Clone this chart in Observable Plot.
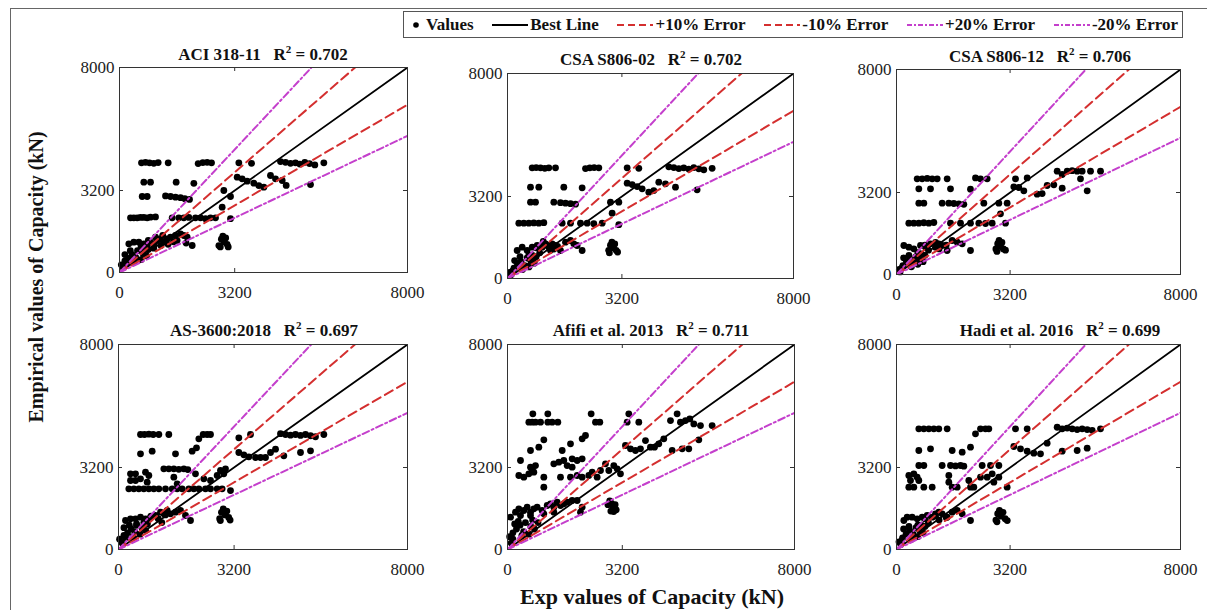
<!DOCTYPE html>
<html><head><meta charset="utf-8">
<script src="https://cdn.jsdelivr.net/npm/d3@7"></script>
<script src="https://cdn.jsdelivr.net/npm/@observablehq/plot@0.6"></script>
<style>
body{margin:0;background:#fff;font-family:"Liberation Serif","Times New Roman",serif}
#root{position:relative;width:1207px;height:610px;overflow:hidden;background:#fff}
.outer{position:absolute;left:10px;top:8px;width:1400px;height:800px;border-left:1px solid #666;border-top:1px solid #666}
.panel{position:absolute}
.title{position:absolute;font-weight:bold;font-size:17px;white-space:pre;transform:translate(-50%,-50%);color:#111}
.title sup{font-size:11px;vertical-align:7px;line-height:0}
.ylab{position:absolute;left:36px;top:277px;transform:translate(-50%,-50%) rotate(-90deg);font-weight:bold;font-size:20px;white-space:nowrap;color:#111}
.xlab{position:absolute;left:652px;top:597px;transform:translate(-50%,-50%);font-weight:bold;font-size:22px;white-space:nowrap;color:#111}
.legend{position:absolute;left:403px;top:11px;width:780px;height:27px;border:1px solid #555;background:#fff;display:flex;align-items:center;justify-content:space-between;font-weight:bold;font-size:17px;color:#111;box-sizing:border-box;padding:0 4px 0 6px}
.legend .it{display:flex;align-items:center;white-space:nowrap}
.legend svg{margin-right:2px}
</style></head>
<body><div id="root"><div class="outer"></div></div>
<script>
// ---------------- data ----------------
const panelTitles = ["ACI 318-11", "CSA S806-02", "CSA S806-12", "AS-3600:2018", "Afifi et al. 2013", "Hadi et al. 2016"];
const r2Values = [0.702, 0.702, 0.706, 0.697, 0.711, 0.699];
const axisTicks = [0, 3200, 8000];
const axisDomain = [0, 8000];
const legendLabels = ["Values", "Best Line", "+10% Error", "-10% Error", "+20% Error", "-20% Error"];
// error band slopes (predicted / experimental)
const bandSlopes = [1.1 / 0.9, 0.9 / 1.1, 1.2 / 0.8, 0.8 / 1.2];

// [experimental, empirical] pairs in kN
const aciPoints = [
[611,4280],[722,4300],[833,4280],[953,4260],[1074,4290],[1352,4280],[2185,4250],[2315,4290],[2435,4300],[2556,4280],[3315,4280],[3667,4260],[4472,4330],[4611,4300],[4750,4260],[4889,4280],[5009,4230],[5148,4300],[5278,4250],[5426,4200],[5676,4280],
[676,3523],[861,3523],[1574,3523],[2065,3480],[3269,3720],[3407,3655],[3546,3562],[3731,3484],[3870,3394],[4009,3330],[4194,3785],[4333,3655],[4519,3590],[4630,3400],[5306,3433],
[630,2966],[769,2966],[1278,2990],[1417,2966],[1556,2940],[1694,2920],[1815,2880],[1944,2850],[2898,3200],[3083,2966],[2852,2550],
[306,2133],[398,2133],[491,2133],[583,2150],[676,2150],[769,2133],[861,2160],[1000,2170],[1463,2133],[1648,2133],[1787,2133],[1926,2150],[2111,2133],[2250,2133],[2389,2100],[2528,2133],[2667,2133],[3083,2100],
[259,1120],[398,1183],[537,1183],[676,1120],[769,1054],[861,1183],[954,1120],[1046,1249],[1139,1314],[1231,1183],[1324,1314],[1417,1379],[1556,1444],[1694,1509],[1787,1444],[1880,1379],[2019,1054],[600,1000],[800,1250],[950,950],[1150,1050],[1350,1100],[1500,1200],[1000,1380],[1200,1450],[1600,1250],[1850,1150],
[2760,1050],[2830,1300],[2870,1420],[2900,1200],[2950,1350],[2990,1100],[3020,1000],[2800,1000],
[50,300],[150,450],[250,550],[350,700],[450,600],[150,700],[300,850],[500,850],[650,750],[750,650],[600,500],[200,350],[400,400],[100,200],[800,900],[700,950]
];
const csa02Points = [
[690,4319],[802,4330],[923,4319],[1044,4300],[1156,4319],[1343,4319],[2182,4290],[2303,4319],[2424,4330],[2555,4319],[3347,4319],[3673,4300],[4512,4360],[4652,4330],[4792,4290],[4931,4319],[5071,4270],[5211,4330],[5351,4280],[5491,4240],[5724,4300],
[643,3563],[876,3563],[1575,3563],[2088,3540],[3347,3719],[3487,3667],[3627,3589],[3767,3498],[3953,3368],[4092,3433],[4232,3758],[4419,3693],[4699,3563],[5304,3459],
[643,2978],[783,2978],[1296,2978],[1482,2960],[1622,2940],[1762,2920],[1902,2900],[2880,2978],[3114,2978],[2927,2548],
[317,2158],[457,2158],[597,2158],[736,2170],[876,2158],[1016,2180],[1529,2158],[1762,2158],[2042,2158],[2228,2158],[2415,2140],[2648,2158],[3114,2100],
[270,1093],[410,1223],[550,1093],[690,1223],[830,1288],[970,1223],[1063,1353],[1156,1223],[1249,1353],[1343,1288],[1482,1093],[1622,1418],[1762,1483],[1855,1353],[1948,1288],[2088,1093],[600,900],[900,1000],[1200,1100],[1400,1250],[800,1200],[1100,1300],[1000,1450],[1300,1150],
[2830,1100],[2880,1300],[2920,1420],[2960,1200],[3000,1350],[3040,1100],[3080,1030],[2850,1000],
[80,250],[180,400],[280,550],[380,650],[480,500],[200,700],[350,850],[550,800],[650,700],[750,600],[600,450],[150,300],[420,350],[100,150],[800,850],[700,900]
];
const csa12Points = [
[582,3734],[723,3734],[864,3750],[1005,3734],[1146,3734],[1427,3734],[2225,3770],[2366,3734],[2554,3734],[3352,3734],[3681,3770],
[4526,4031],[4667,3903],[4808,4031],[4948,4050],[5089,4031],[5230,4031],[5465,4031],[5747,4031],
[629,3344],[958,3344],[1521,3344],[2084,3330],[3305,3422],[3446,3396],[3587,3266],[3962,3136],[4103,3160],[4244,3474],[4432,3500],[4667,3370],[5183,3734],[5371,3266],
[629,2783],[770,2783],[1286,2783],[1474,2783],[1615,2770],[1756,2760],[1897,2740],[2460,2783],[2883,2783],[3117,2783],[2929,2367],
[347,2003],[488,2003],[629,2003],[770,2020],[911,2003],[1052,2030],[1521,2003],[1803,2003],[2084,2003],[2319,2003],[2507,1990],[2695,2003],[3070,2003],
[207,1131],[347,1066],[488,1001],[676,1131],[817,1066],[958,1196],[1098,1066],[1192,1196],[1286,1131],[1427,936],[1568,1326],[1709,1261],[1850,1196],[2084,936],[600,850],[900,950],[1200,1000],[1400,1150],[800,1150],[1100,1250],
[2800,1000],[2850,1200],[2890,1330],[2930,1100],[2970,1250],[3010,1000],[3070,950],[2830,900],
[80,200],[180,350],[280,500],[380,600],[480,450],[200,650],[350,750],[550,700],[650,600],[750,500],[600,400],[150,250],[420,300],[100,100],[800,750],[700,800]
];
const as3600Points = [
[609,4487],[720,4487],[840,4500],[960,4487],[1117,4487],[1393,4487],[2224,4318],[2344,4487],[2454,4487],[2547,4487],[3331,4357],[3654,4487],[4484,4520],[4623,4487],[4761,4460],[4900,4487],[5038,4450],[5176,4487],[5315,4440],[5453,4400],[5684,4487],
[609,3733],[932,3837],[1578,3733],[2039,3837],[2159,3967],[3331,3785],[3470,3694],[3608,3616],[3793,3590],[3931,3590],[4069,3590],[4208,3785],[4346,3915],[4577,3655],[5038,3785],[5315,3850],
[1255,3148],[1393,3148],[1532,3148],[1670,3130],[1809,3148],[1919,3120],[2823,3083],[2962,3148],
[332,2952],[471,2952],[748,3018],[840,2887],[332,2693],[471,2693],[609,2758],[794,2628],
[1532,2823],[1624,2563],[2131,2952],[2362,2758],[2547,2693],[2731,2887],[2915,2952],
[286,2368],[425,2368],[563,2368],[701,2368],[840,2368],[978,2368],[1117,2368],[1301,2368],[1486,2368],[1624,2368],[1762,2368],[1947,2368],[2085,2368],[2224,2368],[2408,2368],[2547,2368],[2731,2368],[2869,2368],[3100,2300],
[194,1131],[332,1196],[471,1196],[609,1261],[748,1196],[886,1261],[1024,1326],[1163,1456],[1255,1391],[1347,1521],[1439,1391],[1578,1456],[1716,1521],[1855,1326],[1993,1131],[500,1000],[800,1100],[1100,1200],[1300,1350],[900,1300],[1200,1050],
[2800,1200],[2850,1450],[2900,1580],[2950,1350],[3000,1500],[3050,1250],[3090,1150],[2820,1130],
[30,400],[150,550],[250,650],[350,800],[450,700],[150,850],[300,950],[500,950],[650,850],[750,750],[600,600],[200,450],[400,500],[100,250],[800,1000],[700,1050]
];
const afifiPoints = [
[595,4967],[688,4967],[706,5295],[780,4967],[920,4967],[1124,5295],[1124,4967],[1245,4967],[1403,4967],[2332,5295],[2453,4967],[2573,4967],[3381,5295],[3335,4967],[3660,4967],[4543,5032],[4728,5295],[4821,4967],[4961,5032],[5082,5097],[5193,4902],[5379,4837],[5704,4837],
[1013,4280],[641,3863],[873,3993],[1524,3863],[1756,4123],[2081,4319],[2174,4448],[3288,4058],[3428,3928],[3567,3863],[3706,3928],[3846,4250],[3985,3993],[4097,3993],[4218,4123],[4357,4319],[4590,3863],[4869,3928],[5054,3928],[5333,4280],
[362,3473],[316,2887],[455,2821],[595,2952],[641,3212],[688,3082],[780,3277],[734,3017],[1013,2821],[1013,2431],[1291,3343],[1431,3408],[1570,3473],[1663,3277],[1802,3538],[1802,3212],[1942,3473],[2081,3538],[1477,2821],[1756,2821],[1942,2887],[2081,2821],[2267,2887],[2360,3017],[2499,2821],[2592,3082],[2731,3343],[2824,3082],[2963,3277],[3056,3147],[3149,2952],
[84,1262],[223,1457],[316,1587],[455,1522],[548,1652],[641,1457],[734,1587],[827,1652],[966,1522],[1106,1717],[1199,1782],[1291,1652],[1384,1847],[1477,1717],[1570,1782],[1663,1847],[1802,1912],[1942,1912],[2081,1652],[2035,1457],[362,1327],[641,1327],[1013,1392],[1291,1457],
[2800,1750],[2850,1900],[2900,1800],[2950,1650],[3000,1750],[3030,1550],[2880,1500],[2960,1480],
[60,500],[150,650],[250,800],[350,950],[450,700],[200,1000],[300,1100],[500,1050],[650,900],[750,800],[600,600],[150,400],[400,550],[100,250],[850,1050],[700,1150]
];
const hadiPoints = [
[629,4709],[770,4709],[911,4709],[1052,4709],[1192,4709],[1427,4709],[2225,4514],[2366,4709],[2507,4709],[2601,4709],[3352,4709],[3681,4709],[4526,4770],[4667,4709],[4808,4740],[4948,4709],[5089,4680],[5230,4709],[5371,4680],[5512,4650],[5747,4709],
[629,3863],[958,3928],[1568,3863],[1850,3798],[2084,3993],[3305,4019],[3493,3928],[3681,3837],[3868,3759],[4056,3733],[4244,4149],[4667,3837],[5089,3863],[5371,3954],
[629,3278],[770,3278],[1286,3278],[1521,3278],[1662,3260],[1803,3278],[1897,3250],[2413,3278],[2648,3278],[2883,3278],
[347,2887],[488,2952],[582,2822],[394,2692],[629,2692],[770,2432],[1005,2432],[488,2432],[347,2432],[1474,2887],[1474,2627],[1568,2432],[1709,2432],[2037,2692],[2084,2432],[2178,2432],[2366,2822],[2554,2822],[2695,2952],[2742,2627],[2883,2822],[3117,2432],
[207,1131],[300,1261],[441,1261],[582,1196],[723,1261],[864,1326],[1005,1261],[1098,1391],[1192,1456],[1286,1391],[1427,1261],[1568,1456],[1709,1521],[1850,1391],[2084,1131],[600,950],[900,1050],[1200,1150],[1400,1250],[800,1200],[1100,1300],
[2800,1150],[2850,1400],[2900,1530],[2950,1300],[3000,1450],[3060,1200],[3120,1130],[2830,1080],
[70,300],[170,450],[270,600],[370,750],[470,600],[200,800],[350,900],[550,850],[650,750],[750,650],[600,500],[150,350],[420,400],[120,200],[800,900],[700,950]
];
const panelPoints = [aciPoints, csa02Points, csa12Points, as3600Points, afifiPoints, hadiPoints];

// ---------------- layout ----------------
const boxes = [
  {x:119, y:67, w:288, h:205, tx:263, ty:55},
  {x:507, y:73, w:286, h:205, tx:651, ty:60},
  {x:896, y:69, w:284, h:205, tx:1040, ty:57},
  {x:118, y:344, w:289, h:205, tx:264, ty:331},
  {x:507, y:344, w:287, h:205, tx:651, ty:331},
  {x:896, y:344, w:284, h:205, tx:1060, ty:331}
];
const RED = "#d42f2f", MAG = "#c43fcc";
const SERIF = "'Liberation Serif', 'Times New Roman', serif";
const mL = 50, mR = 26, mT = 6, mB = 34;
const root = document.getElementById("root");

function refLine(s) { return [[0, 0], [axisDomain[1] * 2, axisDomain[1] * 2 * s]]; }

boxes.forEach((b, i) => {
  const tickLenX = axisDomain[1] * 4 / b.h, tickLenY = axisDomain[1] * 4 / b.w;
  const svg = Plot.plot({
    width: b.w + mL + mR, height: b.h + mT + mB,
    marginLeft: mL, marginRight: mR, marginTop: mT, marginBottom: mB,
    x: {domain: axisDomain},
    y: {domain: axisDomain},
    style: {fontSize: "17px", color: "#222", background: "transparent", overflow: "visible"},
    marks: [
      Plot.dot(panelPoints[i], {x: d => d[0], y: d => d[1], r: 3.4, fill: "#000", stroke: "none"}),
      Plot.line(refLine(1), {x: d => d[0], y: d => d[1], stroke: "#000", strokeWidth: 1.8, clip: true}),
      Plot.line(refLine(bandSlopes[0]), {x: d => d[0], y: d => d[1], stroke: RED, strokeWidth: 2, strokeDasharray: "9,5", clip: true}),
      Plot.line(refLine(bandSlopes[1]), {x: d => d[0], y: d => d[1], stroke: RED, strokeWidth: 2, strokeDasharray: "9,5", clip: true}),
      Plot.line(refLine(bandSlopes[2]), {x: d => d[0], y: d => d[1], stroke: MAG, strokeWidth: 2, strokeDasharray: "7,3,2,3", clip: true}),
      Plot.line(refLine(bandSlopes[3]), {x: d => d[0], y: d => d[1], stroke: MAG, strokeWidth: 2, strokeDasharray: "7,3,2,3", clip: true}),
      Plot.ruleX([axisTicks[1]], {y1: 0, y2: tickLenX, stroke: "#333"}),
      Plot.ruleX([axisTicks[1]], {y1: axisDomain[1] - tickLenX, y2: axisDomain[1], stroke: "#333"}),
      Plot.ruleY([axisTicks[1]], {x1: 0, x2: tickLenY, stroke: "#333"}),
      Plot.ruleY([axisTicks[1]], {x1: axisDomain[1] - tickLenY, x2: axisDomain[1], stroke: "#333"}),
      Plot.frame({stroke: "#333", strokeWidth: 1}),
      Plot.axisX({ticks: axisTicks, tickSize: 0, tickPadding: 13, tickFormat: d => String(d), label: null}),
      Plot.axisY({ticks: axisTicks, tickSize: 0, tickPadding: 5, tickFormat: d => String(d), label: null})
    ]
  });
  svg.style.fontFamily = SERIF;
  svg.querySelectorAll("g[aria-label$='tick label'], text").forEach(el => {
    el.setAttribute("font-family", SERIF);
    el.style.fontFamily = SERIF;
  });
  svg.classList.add("panel");
  svg.style.left = (b.x - mL) + "px";
  svg.style.top = (b.y - mT) + "px";
  root.appendChild(svg);
  const t = document.createElement("div");
  t.className = "title";
  t.style.left = b.tx + "px"; t.style.top = b.ty + "px";
  t.innerHTML = `${panelTitles[i]}   R<sup>2</sup> = ${r2Values[i].toFixed(3)}`;
  root.appendChild(t);
});

const yl = document.createElement("div"); yl.className = "ylab"; yl.textContent = "Empirical values of Capacity (kN)"; root.appendChild(yl);
const xl = document.createElement("div"); xl.className = "xlab"; xl.textContent = "Exp values of Capacity (kN)"; root.appendChild(xl);

// legend
const lg = document.createElement("div"); lg.className = "legend";
const samples = [
  `<svg width="14" height="10"><circle cx="6" cy="5" r="2.8" fill="#000"/></svg>`,
  `<svg width="36" height="10"><line x1="0" y1="5" x2="36" y2="5" stroke="#000" stroke-width="2"/></svg>`,
  `<svg width="36" height="10"><line x1="0" y1="5" x2="36" y2="5" stroke="${RED}" stroke-width="2" stroke-dasharray="7,4"/></svg>`,
  `<svg width="36" height="10"><line x1="0" y1="5" x2="36" y2="5" stroke="${RED}" stroke-width="2" stroke-dasharray="7,4"/></svg>`,
  `<svg width="36" height="10"><line x1="0" y1="5" x2="36" y2="5" stroke="${MAG}" stroke-width="2" stroke-dasharray="5,2,2,2"/></svg>`,
  `<svg width="36" height="10"><line x1="0" y1="5" x2="36" y2="5" stroke="${MAG}" stroke-width="2" stroke-dasharray="5,2,2,2"/></svg>`
];
legendLabels.forEach((l, i) => {
  const it = document.createElement("div"); it.className = "it";
  it.innerHTML = samples[i] + `<span>${l}</span>`;
  lg.appendChild(it);
});
root.appendChild(lg);
</script>
</body></html>
